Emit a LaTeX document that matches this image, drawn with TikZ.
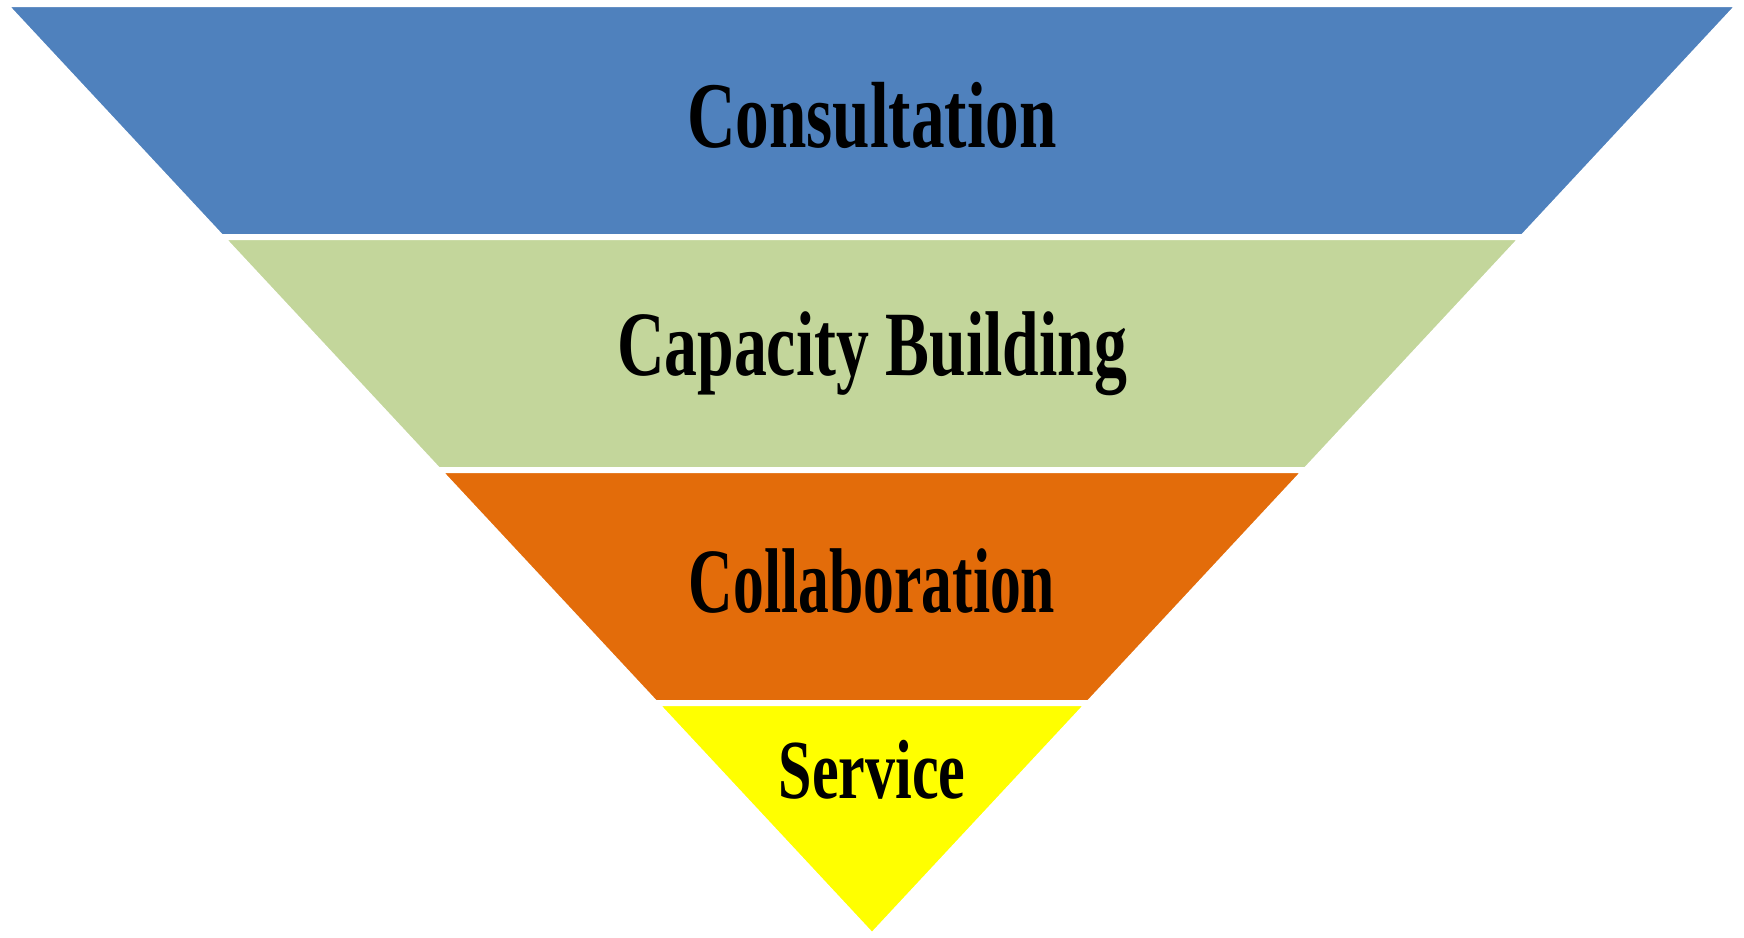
\documentclass[tikz,border=0pt]{standalone}
\usepackage{fontspec}
\usetikzlibrary{calc}
\newfontfamily\bandfont[FakeStretch=0.715]{Liberation Serif}
\newfontfamily\bandnarrow[FakeStretch=0.67]{Liberation Serif}

\definecolor{bandblue}{RGB}{79,129,189}
\definecolor{bandgreen}{RGB}{195,214,155}
\definecolor{bandorange}{RGB}{227,108,10}
\definecolor{bandyellow}{RGB}{255,255,0}

\tikzstyle{band} = [draw=white, line width=3pt, line join=miter]
\tikzstyle{label} = [anchor=base, inner sep=0pt, font=\bandfont\bfseries]

\begin{document}
\begin{tikzpicture}[x=0.5pt, y=-0.5pt]
	\useasboundingbox (0,0) rectangle (1744,937);
	
	\coordinate (tl) at (4,4);
	\coordinate (tr) at (1740,4);
	\coordinate (ap) at (872,936);
	
	\coordinate (l1) at ($(tl)!0.25!(ap)$);
	\coordinate (r1) at ($(tr)!0.25!(ap)$);
	\coordinate (l2) at ($(tl)!0.5!(ap)$);
	\coordinate (r2) at ($(tr)!0.5!(ap)$);
	\coordinate (l3) at ($(tl)!0.75!(ap)$);
	\coordinate (r3) at ($(tr)!0.75!(ap)$);
	
	\filldraw[band, fill=bandblue] (tl) -- (tr) -- (r1) -- (l1) -- cycle;
	\filldraw[band, fill=bandgreen] (l1) -- (r1) -- (r2) -- (l2) -- cycle;
	\filldraw[band, fill=bandorange] (l2) -- (r2) -- (r3) -- (l3) -- cycle;
	\filldraw[band, fill=bandyellow] (l3) -- (r3) -- (ap) -- cycle;
	
	\node[label, font=\fontsize{47}{50}\bandfont\bfseries] (consult) at (872,147) {Consultation};
	\node[label, font=\fontsize{46}{50}\bandfont\bfseries] (capacity) at (872,375) {Capacity Building};
	\node[label, font=\fontsize{46}{50}\bandnarrow\bfseries] (collab) at (872,612) {Collaboration};
	\node[label, font=\fontsize{42}{46}\bandfont\bfseries] (service) at (872,798) {Service};
\end{tikzpicture}
\end{document}
